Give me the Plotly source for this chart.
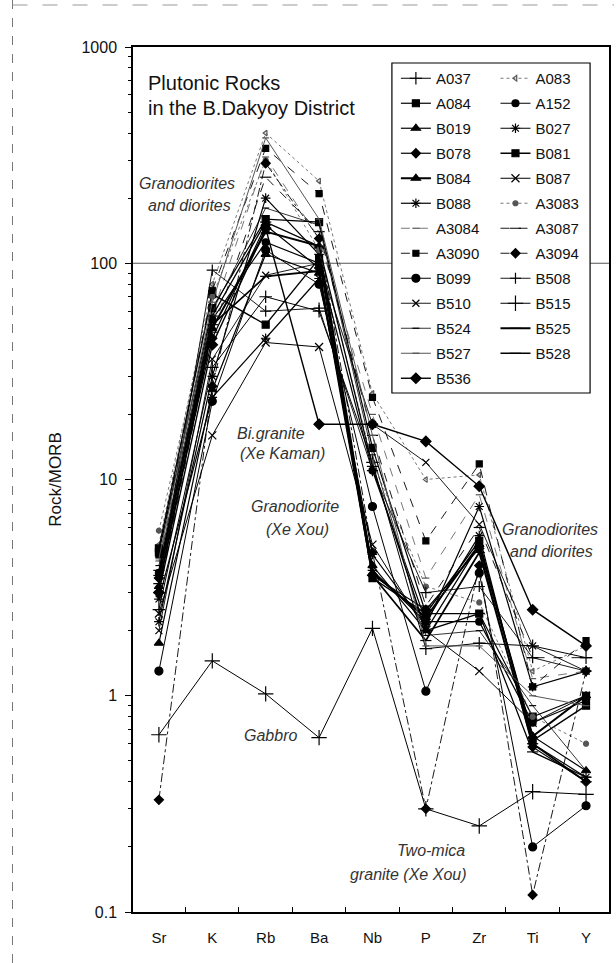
import plotly.graph_objects as go

# ---------------- data ----------------
ELEMENTS = ["Sr", "K", "Rb", "Ba", "Nb", "P", "Zr", "Ti", "Y"]
Y_TICKS = [0.1, 1, 10, 100, 1000]
Y_TICK_TEXT = ["0.1", "1", "10", "100", "1000"]

#          Sr    K     Rb    Ba    Nb    P     Zr    Ti    Y
A037  = [2.5,  33,   70,   60,   12,   1.65, 1.75, 1.7,  1.5]
A083  = [5.0,  80,   400,  240,  25,   10,   10.5, 1.3,  1.7]
A084  = [4.6,  62,   160,  155,  14,   2.4,  2.4,  0.8,  1.0]
A152  = [3.7,  55,   125,  100,  11,   2.2,  2.2,  0.75, 0.95]
B019  = [1.75, 26,   110,  90,   4.0,  2.0,  5.0,  0.65, 0.45]
B027  = [2.2,  30,   200,  110,  3.8,  2.2,  5.5,  0.6,  0.42]
B078  = [3.5,  45,   150,  95,   3.6,  2.5,  4.8,  0.58, 0.4]
B081  = [4.8,  72,   52,   105,  3.5,  2.4,  5.2,  0.62, 0.9]
B084  = [3.2,  50,   140,  120,  3.7,  2.3,  5.0,  0.65, 1.0]
B087  = [2.4,  16,   43,   41,   5.0,  2.0,  1.3,  0.75, 1.0]
B088  = [2.8,  24,   45,   85,   4.5,  2.1,  7.5,  1.1,  1.3]
A3083 = [5.8,  70,   300,  115,  12,   3.2,  2.7,  0.8,  0.6]
A3084 = [4.2,  58,   310,  130,  20,   3.5,  8.5,  1.2,  1.3]
A3087 = [3.0,  48,   250,  140,  16,   2.6,  6.0,  1.5,  1.5]
A3090 = [4.5,  75,   340,  210,  24,   5.2,  11.8, 1.1,  1.8]
A3094 = [0.33, 27,   290,  130,  4.6,  0.3,  4.0,  0.12, 1.3]
B099  = [1.3,  23,   115,  80,   7.5,  1.05, 3.7,  0.2,  0.31]
B508  = [3.3,  93,   60,   62,   11,   3.0,  3.2,  1.5,  1.3]
B510  = [2.0,  36,   88,   100,  18,   12,   6.2,  1.7,  1.3]
B515  = [0.66, 1.45, 1.02, 0.64, 2.05, 0.3,  0.25, 0.36, 0.35]
B524  = [4.0,  60,   180,  150,  13,   1.9,  2.0,  0.9,  0.45]
B525  = [3.6,  52,   87,   92,   3.6,  1.8,  4.6,  0.6,  0.4]
B527  = [4.3,  66,   380,  160,  16,   1.7,  1.7,  1.0,  0.9]
B528  = [3.8,  57,   155,  120,  11.5, 2.0,  2.4,  0.55, 0.42]
B536  = [3.0,  42,   145,  18,   18,   15,   9.3,  2.5,  1.7]

SAMPLES = ["A037", "A083", "A084", "A152", "B019", "B027", "B078", "B081",
           "B084", "B087", "B088", "A3083", "A3084", "A3087", "A3090", "A3094",
           "B099", "B508", "B510", "B515", "B524", "B525", "B527", "B528", "B536"]
SERIES = {"A037": A037, "A083": A083, "A084": A084, "A152": A152, "B019": B019,
          "B027": B027, "B078": B078, "B081": B081, "B084": B084, "B087": B087,
          "B088": B088, "A3083": A3083, "A3084": A3084, "A3087": A3087,
          "A3090": A3090, "A3094": A3094, "B099": B099, "B508": B508,
          "B510": B510, "B515": B515, "B524": B524, "B525": B525, "B527": B527,
          "B528": B528, "B536": B536}

# ---------------- styles ----------------
K = "black"
G = "#555555"
STYLE = {
    "A037":  dict(sym="cross-thin-open", size=9, dash="solid", w=1.0, c=K),
    "A083":  dict(sym="triangle-left-open", size=5, dash="dot", w=0.8, c=G),
    "A084":  dict(sym="square", size=7, dash="solid", w=1.2, c=K),
    "A152":  dict(sym="circle", size=7, dash="solid", w=1.2, c=K),
    "B019":  dict(sym="triangle-up", size=8, dash="solid", w=1.2, c=K),
    "B027":  dict(sym="asterisk-open", size=8, dash="solid", w=1.2, c=K),
    "B078":  dict(sym="diamond", size=7, dash="solid", w=1.2, c=K),
    "B081":  dict(sym="square", size=7, dash="solid", w=1.4, c=K),
    "B084":  dict(sym="triangle-up", size=8, dash="solid", w=2.0, c=K),
    "B087":  dict(sym="x-thin-open", size=8, dash="solid", w=1.0, c=K),
    "B088":  dict(sym="asterisk-open", size=8, dash="solid", w=1.2, c=K),
    "A3083": dict(sym="circle", size=5, dash="dot", w=0.8, c=G),
    "A3084": dict(sym="line-ew-open", size=5, dash="dash", w=0.8, c=G),
    "A3087": dict(sym="line-ew-open", size=8, dash="dash", w=0.9, c=K),
    "A3090": dict(sym="square", size=6, dash="dash", w=0.9, c=K),
    "A3094": dict(sym="diamond", size=7, dash="dashdot", w=0.9, c=K),
    "B099":  dict(sym="circle", size=8, dash="solid", w=1.0, c=K),
    "B508":  dict(sym="cross-thin-open", size=8, dash="solid", w=0.9, c=K),
    "B510":  dict(sym="x-thin-open", size=7, dash="solid", w=0.9, c=K),
    "B515":  dict(sym="cross-thin-open", size=11, dash="solid", w=1.0, c=K),
    "B524":  dict(sym="line-ew-open", size=5, dash="solid", w=0.8, c=K),
    "B525":  dict(sym="line-ew-open", size=8, dash="solid", w=1.8, c=K),
    "B527":  dict(sym="line-ew-open", size=5, dash="solid", w=1.0, c=G),
    "B528":  dict(sym="line-ew-open", size=8, dash="solid", w=1.3, c=K),
    "B536":  dict(sym="diamond", size=8, dash="solid", w=1.4, c=K),
}

FONT = "Liberation Sans, Arial, sans-serif"

# plot area in pixels (figure 616 x 963)
L, R, T, B = 133, 611, 47, 912


def px(xp):
    return (xp - L) / (R - L)


def py(yp):
    return 1 - (yp - T) / (B - T)


fig = go.Figure()
xs = list(range(len(ELEMENTS)))
for i, name in enumerate(SAMPLES):
    st = STYLE[name]
    fig.add_trace(go.Scatter(
        x=xs, y=SERIES[name], name=name, mode="lines+markers",
        line=dict(color=st["c"], width=st["w"], dash=st["dash"]),
        marker=dict(symbol=st["sym"], size=st["size"], color=st["c"],
                    line=dict(color=st["c"], width=1.2)),
        legend="legend" if i % 2 == 0 else "legend2",
        legendgroup=name,
    ))

shapes = [
    # horizontal line at 100
    dict(type="line", xref="paper", yref="y", x0=0, x1=1, y0=100, y1=100,
         line=dict(color="#555555", width=1), layer="below"),
    # legend box
    dict(type="rect", xref="paper", yref="paper", x0=px(393), x1=px(592),
         y0=py(393), y1=py(63), fillcolor="white",
         line=dict(color="black", width=1.2), layer="above"),
    # scan artefacts: page edge lines
    dict(type="line", xref="paper", yref="paper", x0=px(12), x1=px(12),
         y0=py(0), y1=py(963), line=dict(color="#777777", width=1, dash="dash")),
    dict(type="line", xref="paper", yref="paper", x0=px(12), x1=px(616),
         y0=py(5), y1=py(5), line=dict(color="#999999", width=1, dash="longdash")),
]

ann = []


def add_text(text, x, y, anchor="left", size=16, italic=True, color="#333333"):
    ann.append(dict(text=f"<i>{text}</i>" if italic else text,
                    xref="paper", yref="paper", x=px(x), y=py(y),
                    xanchor=anchor, yanchor="middle", showarrow=False,
                    font=dict(family=FONT, size=size, color=color)))


add_text("Plutonic Rocks", 146, 83, size=20, italic=False, color="#111111")
add_text("in the B.Dakyoy District", 146, 108, size=20, italic=False, color="#111111")
add_text("Granodiorites", 237, 183, anchor="right")
add_text("and diorites", 233, 205, anchor="right")
add_text("Bi.granite", 235, 433)
add_text("(Xe Kaman)", 238, 454)
add_text("Granodiorite", 342, 507, anchor="right")
add_text("(Xe Xou)", 332, 529, anchor="right")
add_text("Granodiorites", 502, 529)
add_text("and diorites", 510, 551)
add_text("Gabbro", 300, 735, anchor="right")
add_text("Two-mica", 468, 850, anchor="right")
add_text("granite (Xe Xou)", 470, 874, anchor="right")

minor_y = [k * 10.0 ** e for e in range(-1, 3) for k in range(2, 10)]

fig.update_layout(
    width=616, height=963,
    margin=dict(l=L, r=616 - R, t=T, b=963 - B),
    paper_bgcolor="white", plot_bgcolor="white",
    font=dict(family=FONT, size=15, color="#111111"),
    shapes=shapes, annotations=ann,
    legend=dict(x=px(397), y=py(62), xanchor="left", yanchor="top",
                bgcolor="rgba(0,0,0,0)", borderwidth=0, tracegroupgap=2.5,
                font=dict(family=FONT, size=15, color="#111111")),
    legend2=dict(x=px(497), y=py(62), xanchor="left", yanchor="top",
                 bgcolor="rgba(0,0,0,0)", borderwidth=0, tracegroupgap=2.5,
                 font=dict(family=FONT, size=15, color="#111111")),
    xaxis=dict(range=[-0.485, 8.43], tickvals=xs, ticktext=ELEMENTS,
               ticks="", showgrid=False, zeroline=False,
               showline=True, linecolor="black", linewidth=1.5, mirror=True,
               ticklabelstandoff=11, tickfont=dict(size=15),
               minor=dict(tickvals=[v + 0.5 for v in xs[:-1]], ticks="inside",
                          ticklen=5, tickcolor="black", showgrid=False)),
    yaxis=dict(type="log", range=[-1, 3], tickvals=Y_TICKS, ticktext=Y_TICK_TEXT,
               ticks="outside", ticklen=6, tickcolor="black",
               showgrid=False, zeroline=False,
               showline=True, linecolor="black", linewidth=1.5, mirror=True,
               tickfont=dict(size=16), ticklabelstandoff=5,
               title=dict(text="Rock/MORB", font=dict(size=17), standoff=16),
               minor=dict(tickvals=minor_y, ticks="outside", ticklen=3,
                          tickcolor="black", showgrid=False)),
)

fig.write_html("out.html")
